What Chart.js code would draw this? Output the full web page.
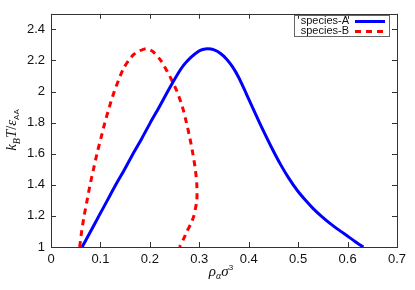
<!DOCTYPE html>
<html>
<head>
<meta charset="utf-8">
<script src="https://cdn.jsdelivr.net/npm/chart.js@4/dist/chart.umd.min.js"></script>
<style>
  html, body { margin: 0; padding: 0; background: #fff; }
  #wrap { width: 415px; height: 290px; position: relative; }
</style>
</head>
<body>
<div id="wrap"><canvas id="chart" width="415" height="290"></canvas></div>
<script>
// species-A coexistence curve (density, temperature)
const blueRho = [0.063, 0.080, 0.097, 0.114, 0.131, 0.149, 0.166, 0.184, 0.201, 0.219, 0.236, 0.254, 0.268, 0.283, 0.298, 0.307, 0.317, 0.330, 0.343, 0.355, 0.367, 0.379, 0.391, 0.403, 0.416, 0.430, 0.447, 0.464, 0.481, 0.498, 0.515, 0.531, 0.548, 0.565, 0.582, 0.599, 0.615, 0.632]
const blueT = [1.0, 1.1, 1.2, 1.3, 1.4, 1.5, 1.6, 1.7, 1.8, 1.9, 2.0, 2.1, 2.168, 2.22, 2.258, 2.27, 2.275, 2.268, 2.245, 2.21, 2.16, 2.095, 2.015, 1.93, 1.84, 1.745, 1.635, 1.533, 1.443, 1.365, 1.30, 1.245, 1.195, 1.15, 1.11, 1.072, 1.036, 1.0]

// species-B
const redRho = [0.058, 0.062, 0.067, 0.073, 0.079, 0.086, 0.093, 0.101, 0.109, 0.118, 0.128, 0.140, 0.147, 0.157, 0.168, 0.178, 0.192, 0.205, 0.222, 0.240, 0.255, 0.266, 0.274, 0.281, 0.287, 0.292, 0.295, 0.295, 0.289, 0.283, 0.275, 0.268, 0.260]
const redT = [1.0, 1.1, 1.2, 1.3, 1.4, 1.5, 1.6, 1.7, 1.8, 1.9, 2.0, 2.1, 2.15, 2.2, 2.24, 2.26, 2.276, 2.26, 2.2, 2.1, 2.0, 1.9, 1.8, 1.7, 1.6, 1.5, 1.4, 1.3, 1.2, 1.15, 1.1, 1.05, 1.0]

const labels = ['species-A', 'species-B']
const xTicks = [0, 0.1, 0.2, 0.3, 0.4, 0.5, 0.6, 0.7]
const yTicks = [1, 1.2, 1.4, 1.6, 1.8, 2, 2.2, 2.4]

const toPoints = (xs, ys) => xs.map((x, i) => ({ x: x, y: ys[i] }))

const fmt = v => String(Math.round(v * 10) / 10)

// draws a run of text pieces: [text, font, dy]
const drawPieces = (ctx, pieces, x, y) => {
    let w = 0
    for (const p of pieces) { ctx.font = p[1]; w += ctx.measureText(p[0]).width }
    let cx = x - w / 2
    for (const p of pieces) {
        ctx.font = p[1]
        ctx.fillText(p[0], cx, y + (p[2] || 0))
        cx += ctx.measureText(p[0]).width
    }
}

const frame = {
    id: 'frame',
    afterDraw(chart) {
        const { ctx, chartArea: a, scales } = chart
        ctx.save()
        ctx.strokeStyle = '#333'
        ctx.lineWidth = 1
        ctx.strokeRect(Math.round(a.left) + 0.5, Math.round(a.top) + 0.5, Math.round(a.right - a.left), Math.round(a.bottom - a.top))
        ctx.beginPath()
        for (const v of xTicks) {
            const px = Math.round(scales.x.getPixelForValue(v)) + 0.5
            ctx.moveTo(px, a.bottom); ctx.lineTo(px, a.bottom - 5)
            ctx.moveTo(px, a.top); ctx.lineTo(px, a.top + 5)
        }
        for (const v of yTicks) {
            const py = Math.round(scales.y.getPixelForValue(v)) + 0.5
            ctx.moveTo(a.left, py); ctx.lineTo(a.left + 5, py)
            ctx.moveTo(a.right, py); ctx.lineTo(a.right - 5, py)
        }
        ctx.stroke()

        // legend, gnuplot style: text then sample
        ctx.strokeStyle = '#666'
        ctx.strokeRect(294.5, 15.5, 95, 21)
        ctx.font = '11px "Liberation Sans", Arial, sans-serif'
        ctx.fillStyle = '#111'
        ctx.textAlign = 'right'
        ctx.textBaseline = 'middle'
        chart.data.datasets.forEach((ds, i) => {
            const y = 21 + i * 10
            ctx.fillText(ds.label, 349, y)
            ctx.save()
            ctx.strokeStyle = ds.borderColor
            ctx.lineWidth = ds.borderWidth
            ctx.setLineDash(ds.borderDash || [])
            ctx.beginPath()
            ctx.moveTo(355, y + 0.5); ctx.lineTo(385, y + 0.5)
            ctx.stroke()
            ctx.restore()
        })

        // axis titles
        ctx.fillStyle = '#111'
        ctx.textAlign = 'left'
        ctx.textBaseline = 'alphabetic'
        const it = 'italic 15px "Liberation Serif", "Times New Roman", serif'
        const sub = 'italic 10px "Liberation Serif", "Times New Roman", serif'
        const subs = '8px "Liberation Sans", Arial, sans-serif'
        drawPieces(ctx, [['\u03c1', it, 0], ['\u03b1', sub, 3], ['\u03c3', it, 0], ['3', subs, -6]], 221, 276)
        ctx.save()
        ctx.translate(16, 130)
        ctx.rotate(-Math.PI / 2)
        drawPieces(ctx, [['k', it, 0], ['B', sub, 4], ['T', it, 0], ['/', '14px "Liberation Serif", serif', 0], ['\u03b5', it, 0], ['AA', subs, 3]], 0, 0)
        ctx.restore()
        ctx.restore()
    }
}

new Chart(document.getElementById('chart').getContext('2d'), {
    type: 'scatter',
    data: {
        datasets: [{
            label: labels[0],
            data: toPoints(blueRho, blueT),
            showLine: true,
            borderColor: '#0000ff',
            borderWidth: 3,
            pointRadius: 0,
            tension: 0.25
        }, {
            label: labels[1],
            data: toPoints(redRho, redT),
            showLine: true,
            borderColor: '#ff0000',
            borderWidth: 3,
            borderDash: [6, 5],
            pointRadius: 0,
            tension: 0.25
        }]
    },
    options: {
        responsive: false,
        animation: false,
        layout: { padding: { left: 0, right: 18, top: 11, bottom: 0 } },
        plugins: { legend: { display: false }, tooltip: { enabled: false } },
        scales: {
            x: {
                type: 'linear', min: 0, max: 0.7,
                afterBuildTicks: s => { s.ticks = xTicks.map(v => ({ value: v })) },
                afterFit: s => { s.height = 43 },
                grid: { display: false, drawTicks: false },
                border: { display: false },
                ticks: { callback: fmt, color: '#111', padding: 5, maxRotation: 0,
                    font: { family: '"Liberation Sans", Arial, sans-serif', size: 13 } }
            },
            y: {
                type: 'linear', min: 1, max: 2.5,
                afterBuildTicks: s => { s.ticks = yTicks.map(v => ({ value: v })) },
                afterFit: s => { s.width = 51 },
                grid: { display: false, drawTicks: false },
                border: { display: false },
                ticks: { callback: fmt, color: '#111', padding: 6,
                    font: { family: '"Liberation Sans", Arial, sans-serif', size: 13 } }
            }
        }
    },
    plugins: [frame]
});
</script>
</body>
</html>
